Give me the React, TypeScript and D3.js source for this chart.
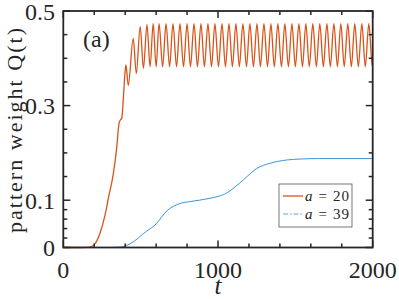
import React from "react";
import * as d3 from "d3";

// ---- data ----
const X_TICKS_MAJOR = [0, 1000, 2000];
const X_TICKS_MINOR = [200, 400, 600, 800, 1200, 1400, 1600, 1800];
const Y_TICKS_MAJOR = [0, 0.1, 0.3, 0.5];
const Y_TICKS_MINOR = [0.02, 0.04, 0.06, 0.08, 0.15, 0.2, 0.25, 0.35, 0.4, 0.45];
const X_TICK_LABELS = ["0", "1000", "2000"];
const Y_TICK_LABELS = ["0", "0.1", "0.3", "0.5"];

// a = 20 : initial rise
const RISE_T = [0, 120, 170, 200, 237, 270, 295, 323, 345, 360, 370, 378, 388, 399];
const RISE_Q = [0, 0, 0.001, 0.006, 0.03, 0.069, 0.11, 0.155, 0.21, 0.262, 0.27, 0.273, 0.315, 0.37];
// a = 20 : oscillation maxima
const PEAK_T = [405, 452, 497, 541, 581, 619, 664, 709, 754, 800, 845, 890, 935, 980, 1026, 1071, 1116, 1161, 1206, 1252, 1297, 1342, 1387, 1432, 1478, 1523, 1568, 1613, 1658, 1704, 1749, 1794, 1839, 1884, 1930, 1975];
const PEAK_Q = [0.386, 0.442, 0.467, 0.471, 0.473, 0.473, 0.473, 0.473, 0.473, 0.473, 0.473, 0.473, 0.473, 0.473, 0.473, 0.473, 0.473, 0.473, 0.473, 0.473, 0.473, 0.473, 0.473, 0.473, 0.473, 0.473, 0.473, 0.473, 0.473, 0.473, 0.473, 0.473, 0.473, 0.473, 0.473, 0.473];
// a = 20 : oscillation minima
const TROUGH_T = [420, 472, 518, 561, 600, 642, 687, 732, 777, 822, 867, 912, 958, 1003, 1048, 1093, 1138, 1184, 1229, 1274, 1320, 1364, 1410, 1455, 1500, 1546, 1590, 1636, 1681, 1726, 1772, 1816, 1862, 1907, 1952, 1998];
const TROUGH_Q = [0.343, 0.368, 0.379, 0.382, 0.382, 0.382, 0.382, 0.382, 0.382, 0.382, 0.382, 0.382, 0.382, 0.382, 0.382, 0.382, 0.382, 0.382, 0.382, 0.382, 0.382, 0.382, 0.382, 0.382, 0.382, 0.382, 0.382, 0.382, 0.382, 0.382, 0.382, 0.382, 0.382, 0.382, 0.382, 0.382];
const END_T = [2000];
const END_Q = [0.383];

// a = 39
const BLUE_T = [0, 300, 370, 452, 520, 600, 668, 754, 819, 880, 948, 1000, 1056, 1110, 1164, 1250, 1336, 1444, 1530, 1650, 2000];
const BLUE_Q = [0, 0, 0.001, 0.012, 0.03, 0.05, 0.077, 0.093, 0.097, 0.1, 0.104, 0.108, 0.115, 0.128, 0.143, 0.167, 0.178, 0.185, 0.187, 0.188, 0.188];

const LEGEND_LABELS = ["20", "39"];

const AX = "#262626";
const ORANGE = "#D95319";
const BLUE = "#3f94d8";
const FONT = '"Liberation Serif", "DejaVu Serif", serif';

function zip(t: number[], q: number[]) {
  return t.map((v, i) => [v, q[i]] as [number, number]);
}

export default function App() {
  const x = d3.scaleLinear().domain([0, 2000]).range([63.3, 372.7]);
  const y = d3.scaleLinear().domain([0, 0.5]).range([247.5, 11]);

  const orangePts = [
    ...zip(RISE_T, RISE_Q),
    ...zip(PEAK_T, PEAK_Q),
    ...zip(TROUGH_T, TROUGH_Q),
    ...zip(END_T, END_Q),
  ].sort((a, b) => a[0] - b[0]);
  const bluePts = zip(BLUE_T, BLUE_Q);

  const line = d3
    .line<[number, number]>()
    .x((d) => x(d[0]))
    .y((d) => y(d[1]))
    .curve(d3.curveMonotoneX);

  const [x0, x1] = x.range();
  const [y0, y1] = y.range();
  const maj = 7;
  const min = 4;
  const txt = { fontFamily: FONT, fill: AX } as React.CSSProperties;

  return (
    <svg
      width={399}
      height={299}
      style={{ position: "absolute", left: 0, top: 0, background: "#fff" }}
    >
      <rect x={0} y={0} width={399} height={299} fill="#fff" />
      {/* data lines */}
      <path d={line(bluePts) || ""} fill="none" stroke={BLUE} strokeWidth={1} />
      <path d={line(orangePts) || ""} fill="none" stroke={ORANGE} strokeWidth={1.3} />

      {/* ticks */}
      <g stroke={AX} strokeWidth={1.5}>
        {X_TICKS_MAJOR.map((t) => (
          <g key={"xM" + t}>
            <line x1={x(t)} x2={x(t)} y1={y0} y2={y0 - maj} />
            <line x1={x(t)} x2={x(t)} y1={y1} y2={y1 + maj} />
          </g>
        ))}
        {X_TICKS_MINOR.map((t) => (
          <g key={"xm" + t}>
            <line x1={x(t)} x2={x(t)} y1={y0} y2={y0 - min} />
            <line x1={x(t)} x2={x(t)} y1={y1} y2={y1 + min} />
          </g>
        ))}
        {Y_TICKS_MAJOR.map((v) => (
          <g key={"yM" + v}>
            <line x1={x0} x2={x0 + maj} y1={y(v)} y2={y(v)} />
            <line x1={x1} x2={x1 - maj} y1={y(v)} y2={y(v)} />
          </g>
        ))}
        {Y_TICKS_MINOR.map((v) => (
          <g key={"ym" + v}>
            <line x1={x0} x2={x0 + min} y1={y(v)} y2={y(v)} />
            <line x1={x1} x2={x1 - min} y1={y(v)} y2={y(v)} />
          </g>
        ))}
      </g>
      {/* box */}
      <rect x={x0} y={y1} width={x1 - x0} height={y0 - y1} fill="none" stroke={AX} strokeWidth={1.8} />

      {/* tick labels */}
      {X_TICKS_MAJOR.map((t, i) => (
        <text key={"xl" + t} x={x(t)} y={278} textAnchor="middle" style={{ ...txt, fontSize: 24 }}>
          {X_TICK_LABELS[i]}
        </text>
      ))}
      {Y_TICKS_MAJOR.map((v, i) => (
        <text key={"yl" + v} x={55} y={y(v) + 8.5} textAnchor="end" style={{ ...txt, fontSize: 24 }}>
          {Y_TICK_LABELS[i]}
        </text>
      ))}

      {/* axis labels */}
      <text
        x={218}
        y={294}
        textAnchor="middle"
        style={{ ...txt, fontSize: 25, fontStyle: "italic" }}
      >
        t
      </text>
      <text
        transform="translate(22,130.5) rotate(-90)"
        textAnchor="middle"
        style={{ ...txt, fontSize: 22 }}
        textLength={205}
        lengthAdjust="spacing"
      >
        pattern weight Q(t)
      </text>
      <text x={83} y={47} style={{ ...txt, fontSize: 24 }}>
        (a)
      </text>

      {/* legend */}
      <g>
        <rect x={279} y={184} width={73} height={43} fill="#fff" stroke="#555" strokeWidth={0.8} />
        <line x1={283} x2={303} y1={196} y2={196} stroke={ORANGE} strokeWidth={1.3} />
        <line
          x1={283}
          x2={303}
          y1={214}
          y2={214}
          stroke="#8fc3ea"
          strokeWidth={1.3}
          strokeDasharray="5 2 1.5 2"
        />
        {LEGEND_LABELS.map((lab, i) => (
          <text
            key={lab}
            x={305}
            y={201 + i * 18}
            style={{ ...txt, fontSize: 15 }}
            textLength={44}
            lengthAdjust="spacing"
          >
            <tspan fontStyle="italic">a</tspan>
            {" = " + lab}
          </text>
        ))}
      </g>
    </svg>
  );
}
